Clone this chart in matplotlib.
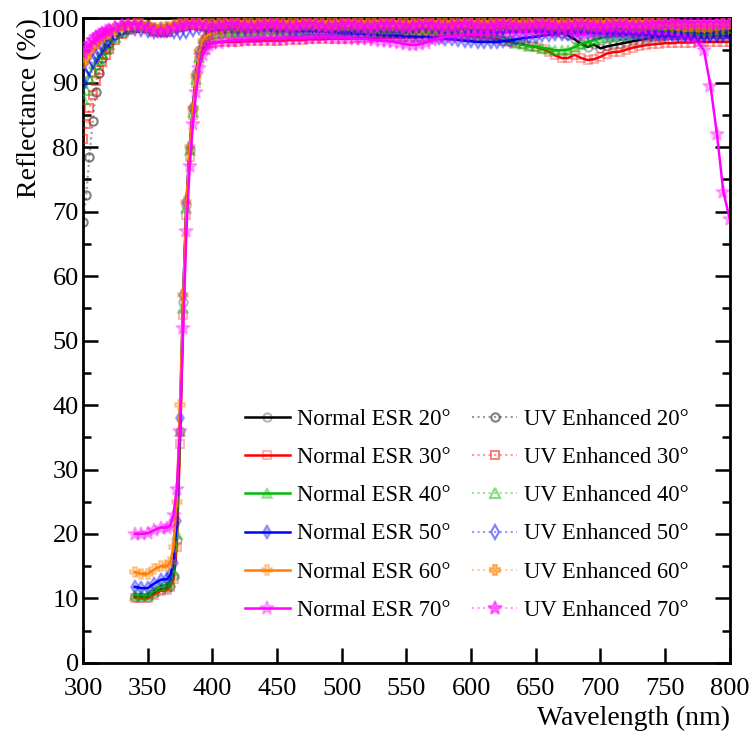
import matplotlib
matplotlib.use("Agg")
import matplotlib.pyplot as plt
from matplotlib.colors import to_rgba

plt.rcParams['font.family'] = ['Liberation Serif', 'DejaVu Serif']
plt.rcParams['mathtext.fontset'] = 'stix'

# wavelength grids (nm)
nesr_wl = [340, 345, 350, 355, 360, 365, 367.5, 370, 372.5, 375, 377.5, 380, 382.5,
           385, 387.5, 390, 392.5, 395, 397.5, 400] + list(range(405, 805, 5))
uv_wl = [300, 302.5, 305, 307.5, 310, 312.5, 315, 317.5, 320] + list(range(325, 805, 5))

# Normal ESR reflectance (%)
nesr_20 = [10.3, 10.2, 10.2, 10.8, 11.4,
           11.6, 12.0, 13.5, 19.0, 36.0, 56.0, 71.0, 79.5, 86.0, 91.5, 95.0, 96.4, 97.0, 97.8, 98.3,
           98.5, 98.6, 98.7, 98.8, 98.8, 98.9, 98.9, 99.0, 99.0, 99.0,
           99.1, 99.1, 99.1, 99.1, 99.1, 99.2, 99.2, 99.2, 99.2, 99.2,
           99.2, 99.2, 99.2, 99.2, 99.2, 99.2, 99.2, 99.2, 99.2, 99.2,
           99.2, 99.2, 99.2, 99.2, 99.2, 99.2, 99.1, 99.1, 99.1, 99.0,
           99.0, 99.0, 98.9, 98.9, 98.8, 98.8, 98.7, 98.6, 98.5, 98.4,
           98.3, 98.1, 97.9, 97.7, 97.3, 96.7, 96.0, 95.5, 95.9, 95.3,
           95.6, 95.8, 96.0, 96.2, 96.4, 96.6, 96.8, 97.0, 97.1, 97.2,
           97.3, 97.3, 97.4, 97.4, 97.5, 97.5, 97.5, 97.6, 97.6, 97.6]
nesr_30 = [10.1, 10.0, 10.0, 10.6, 11.2,
           11.3, 11.8, 13.0, 18.0, 34.0, 54.0, 69.5, 78.5, 85.0, 90.0, 93.3, 95.0, 95.8, 96.1, 96.2,
           96.3, 96.3, 96.3, 96.3, 96.4, 96.4, 96.4, 96.5, 96.5, 96.5,
           96.5, 96.6, 96.6, 96.6, 96.7, 96.7, 96.7, 96.8, 96.8, 96.8,
           96.8, 96.9, 96.9, 96.9, 96.9, 97.0, 97.0, 97.0, 97.0, 97.0,
           97.0, 97.0, 97.1, 97.1, 97.2, 97.2, 97.3, 97.3, 97.3, 97.2,
           97.1, 97.0, 96.9, 96.7, 96.5, 96.3, 96.1, 95.9, 95.7, 95.5,
           95.2, 94.8, 94.2, 93.8, 93.8, 94.3, 93.8, 93.5, 93.6, 94.0,
           94.5, 94.7, 94.8, 95.1, 95.4, 95.6, 95.8, 95.9, 96.0, 96.1,
           96.1, 96.2, 96.2, 96.2, 96.3, 96.3, 96.3, 96.3, 96.3, 96.3]
nesr_40 = [10.6, 10.5, 10.5, 11.2, 11.9,
           12.1, 12.6, 14.0, 20.0, 36.0, 55.0, 70.5, 79.5, 85.5, 90.5, 94.0, 95.8, 96.7, 97.2, 97.5,
           97.7, 97.8, 97.9, 97.9, 98.0, 98.0, 98.0, 98.1, 98.1, 98.1,
           98.0, 98.0, 98.0, 98.0, 98.1, 98.1, 98.1, 98.0, 98.0, 98.0,
           98.0, 98.0, 98.0, 97.9, 97.9, 97.9, 97.9, 97.8, 97.8, 97.8,
           97.8, 97.8, 97.8, 97.7, 97.7, 97.7, 97.7, 97.6, 97.6, 97.5,
           97.5, 97.4, 97.3, 97.2, 97.0, 96.6, 96.1, 95.9, 95.6, 95.6,
           95.4, 95.2, 95.0, 95.0, 95.1, 95.5, 96.0, 96.3, 96.6, 96.9,
           97.1, 97.2, 97.3, 97.4, 97.5, 97.5, 97.6, 97.6, 97.7, 97.7,
           97.7, 97.7, 97.8, 97.8, 97.8, 97.8, 97.8, 97.8, 97.8, 97.8]
nesr_50 = [11.8, 11.6, 11.6, 12.3, 12.9,
           13.0, 13.6, 15.5, 22.0, 38.0, 57.0, 71.5, 80.0, 86.0, 91.0, 94.5, 96.2, 97.0, 97.5, 97.8,
           98.0, 98.1, 98.2, 98.2, 98.2, 98.2, 98.2, 98.2, 98.1, 98.1,
           98.1, 98.1, 98.0, 98.0, 98.0, 97.9, 97.9, 97.8, 97.8, 97.7,
           97.7, 97.6, 97.6, 97.5, 97.5, 97.4, 97.4, 97.3, 97.3, 97.2,
           97.2, 97.1, 97.1, 97.0, 96.9, 96.8, 96.7, 96.6, 96.5, 96.4,
           96.3, 96.3, 96.3, 96.3, 96.4, 96.5, 96.7, 96.9, 97.0, 97.1,
           97.3, 97.4, 97.5, 97.6, 97.6, 97.7, 97.7, 97.7, 97.7, 97.7,
           97.6, 97.6, 97.6, 97.5, 97.5, 97.5, 97.4, 97.4, 97.4, 97.4,
           97.3, 97.3, 97.3, 97.3, 97.2, 97.2, 97.2, 97.2, 97.2, 97.2]
nesr_60 = [14.1, 13.8, 13.8, 14.5, 15.0,
           15.0, 15.6, 18.0, 25.0, 40.0, 57.0, 71.5, 80.0, 86.0, 91.0, 94.8, 96.5, 97.1, 97.5, 97.7,
           97.9, 98.0, 98.1, 98.1, 98.2, 98.2, 98.2, 98.3, 98.3, 98.3,
           98.3, 98.3, 98.4, 98.4, 98.4, 98.4, 98.4, 98.4, 98.4, 98.4,
           98.4, 98.4, 98.4, 98.3, 98.3, 98.3, 98.3, 98.3, 98.3, 98.2,
           98.2, 98.2, 98.2, 98.2, 98.2, 98.2, 98.3, 98.3, 98.3, 98.3,
           98.3, 98.3, 98.4, 98.4, 98.4, 98.4, 98.4, 98.4, 98.3, 98.3,
           98.3, 98.3, 98.3, 98.3, 98.3, 98.3, 98.3, 98.3, 98.3, 98.3,
           98.3, 98.3, 98.2, 98.2, 98.2, 98.2, 98.2, 98.1, 98.1, 98.1,
           98.1, 98.0, 98.0, 98.0, 97.9, 97.9, 97.9, 97.8, 97.8, 97.8]
nesr_70 = [20.0, 20.0, 20.1, 20.6, 21.0,
           21.0, 21.3, 23.0, 27.0, 36.0, 52.0, 67.0, 77.0, 83.5, 88.5, 92.3, 94.2, 95.2, 95.8, 96.1,
           96.2, 96.4, 96.5, 96.6, 96.6, 96.7, 96.7, 96.8, 96.8, 96.8,
           96.8, 96.9, 96.9, 96.9, 96.9, 97.0, 97.0, 97.0, 96.9, 96.9,
           96.9, 96.8, 96.8, 96.7, 96.6, 96.5, 96.4, 96.3, 96.1, 95.9,
           95.8, 95.9, 96.2, 96.6, 96.9, 97.1, 97.2, 97.3, 97.4, 97.5,
           97.5, 97.6, 97.6, 97.7, 97.7, 97.8, 97.8, 97.8, 97.9, 97.9,
           97.9, 97.9, 98.0, 98.0, 98.0, 97.7, 97.4, 97.7, 97.9, 97.9,
           97.9, 97.9, 97.8, 97.8, 97.8, 97.7, 97.7, 97.7, 97.6, 97.6,
           97.5, 97.4, 97.2, 96.9, 96.3, 95.0, 89.5, 82.0, 73.0, 68.8]

# UV Enhanced ESR reflectance (%)
uv_20 = [68.4, 72.5, 78.5, 84.0, 88.6, 91.5, 93.8, 95.2, 96.2,
         97.3, 98.1, 98.6, 98.8, 98.9, 98.8, 98.5, 98.3, 98.4, 98.7,
         99.0, 99.2, 99.2, 99.1, 99.0, 99.1, 99.2, 99.3, 99.3, 99.2,
         99.1, 99.1, 99.2, 99.3, 99.3, 99.2, 99.1, 99.1, 99.2, 99.3,
         99.3, 99.2, 99.1, 99.1, 99.2, 99.3, 99.3, 99.2, 99.1, 99.1,
         99.2, 99.3, 99.3, 99.2, 99.1, 99.1, 99.2, 99.3, 99.3, 99.2,
         99.1, 99.1, 99.2, 99.3, 99.3, 99.2, 99.1, 99.1, 99.2, 99.3,
         99.3, 99.2, 99.1, 99.1, 99.2, 99.3, 99.3, 99.2, 99.1, 99.1,
         99.2, 99.3, 99.3, 99.2, 99.1, 99.1, 99.2, 99.3, 99.3, 99.2,
         99.1, 99.1, 99.2, 99.3, 99.3, 99.2, 99.1, 99.0, 98.9, 98.8,
         98.7, 98.7, 98.8, 98.9, 99.0, 99.0]
uv_30 = [81.2, 83.5, 86.0, 88.0, 90.2, 92.0, 93.2, 94.3, 95.2,
         96.6, 97.5, 98.1, 98.4, 98.5, 98.4, 98.0, 97.8, 97.9, 98.3,
         98.6, 98.8, 98.9, 98.8, 98.7, 98.7, 98.8, 98.9, 99.0, 98.9,
         98.8, 98.7, 98.8, 98.9, 99.0, 98.9, 98.8, 98.7, 98.8, 98.9,
         99.0, 98.9, 98.8, 98.7, 98.8, 98.9, 99.0, 98.9, 98.8, 98.7,
         98.8, 98.9, 99.0, 98.9, 98.8, 98.7, 98.8, 98.9, 99.0, 98.9,
         98.8, 98.7, 98.8, 98.9, 99.0, 98.9, 98.8, 98.7, 98.8, 98.9,
         99.0, 98.9, 98.8, 98.7, 98.8, 98.9, 99.0, 98.9, 98.8, 98.7,
         98.8, 98.9, 99.0, 98.9, 98.8, 98.7, 98.8, 98.9, 99.0, 98.9,
         98.8, 98.7, 98.8, 98.9, 98.9, 98.8, 98.7, 98.6, 98.5, 98.4,
         98.3, 98.2, 98.3, 98.4, 98.5, 98.5]
uv_40 = [87.4, 88.8, 90.7, 91.8, 92.8, 93.6, 94.4, 95.2, 95.9,
         97.1, 97.9, 98.4, 98.7, 98.8, 98.6, 98.2, 98.0, 98.2, 98.6,
         98.9, 99.1, 99.1, 99.0, 98.9, 98.9, 99.0, 99.1, 99.1, 99.0,
         98.9, 98.9, 99.0, 99.1, 99.1, 99.0, 98.9, 98.9, 99.0, 99.1,
         99.1, 99.0, 98.9, 98.9, 99.0, 99.1, 99.1, 99.0, 98.9, 98.9,
         99.0, 99.1, 99.1, 99.0, 98.9, 98.9, 99.0, 99.1, 99.1, 99.0,
         98.9, 98.9, 99.0, 99.1, 99.1, 99.0, 98.9, 98.9, 99.0, 99.1,
         99.1, 99.0, 98.9, 98.9, 99.0, 99.1, 99.1, 99.0, 98.9, 98.9,
         99.0, 99.1, 99.1, 99.0, 98.9, 98.9, 99.0, 99.1, 99.1, 99.0,
         98.9, 98.9, 99.0, 99.0, 98.9, 98.8, 98.7, 98.6, 98.5, 98.4,
         98.3, 98.2, 98.2, 98.3, 98.4, 98.4]
uv_50 = [89.8, 91.0, 92.3, 93.3, 94.1, 94.9, 95.6, 96.2, 96.7,
         97.6, 98.2, 98.5, 98.5, 98.3, 98.1, 98.0, 98.1, 98.1, 98.0,
         97.9, 98.0, 98.3, 98.6, 98.8, 98.9, 98.9, 98.8, 98.7, 98.6,
         98.6, 98.7, 98.8, 98.9, 98.9, 98.8, 98.7, 98.6, 98.6, 98.7,
         98.8, 98.9, 98.9, 98.8, 98.7, 98.6, 98.6, 98.7, 98.8, 98.9,
         98.9, 98.8, 98.7, 98.6, 98.6, 98.7, 98.8, 98.9, 98.9, 98.8,
         98.7, 98.6, 98.6, 98.7, 98.8, 98.9, 98.9, 98.8, 98.7, 98.6,
         98.6, 98.7, 98.8, 98.9, 98.9, 98.8, 98.7, 98.6, 98.6, 98.7,
         98.8, 98.8, 98.7, 98.6, 98.5, 98.5, 98.4, 98.4, 98.3, 98.3,
         98.2, 98.2, 98.1, 98.0, 97.9, 97.8, 97.8, 97.7, 97.7, 97.7,
         97.6, 97.6, 97.6, 97.6, 97.7, 97.7]
uv_60 = [93.0, 94.0, 94.9, 95.6, 96.2, 96.7, 97.1, 97.5, 97.8,
         98.3, 98.7, 98.9, 99.0, 99.0, 98.8, 98.5, 98.4, 98.6, 98.9,
         99.1, 99.3, 99.3, 99.2, 99.1, 99.1, 99.2, 99.3, 99.4, 99.3,
         99.2, 99.2, 99.3, 99.4, 99.4, 99.3, 99.2, 99.2, 99.3, 99.4,
         99.4, 99.3, 99.2, 99.2, 99.3, 99.4, 99.4, 99.3, 99.2, 99.2,
         99.3, 99.4, 99.4, 99.3, 99.2, 99.2, 99.3, 99.4, 99.4, 99.3,
         99.2, 99.2, 99.3, 99.4, 99.4, 99.3, 99.2, 99.2, 99.3, 99.4,
         99.4, 99.3, 99.2, 99.2, 99.3, 99.4, 99.4, 99.3, 99.2, 99.2,
         99.3, 99.4, 99.4, 99.3, 99.2, 99.2, 99.3, 99.4, 99.4, 99.3,
         99.2, 99.2, 99.3, 99.3, 99.2, 99.1, 99.0, 98.9, 98.8, 98.8,
         98.7, 98.7, 98.8, 98.9, 99.0, 99.0]
uv_70 = [94.6, 95.4, 96.0, 96.6, 97.0, 97.4, 97.7, 98.0, 98.2,
         98.6, 98.9, 99.0, 98.9, 98.7, 98.4, 98.0, 97.8, 98.0, 98.4,
         98.7, 98.9, 99.0, 98.9, 98.7, 98.6, 98.7, 98.9, 99.0, 98.9,
         98.7, 98.6, 98.7, 98.9, 99.0, 98.9, 98.7, 98.6, 98.7, 98.9,
         99.0, 98.9, 98.7, 98.6, 98.7, 98.9, 99.0, 98.9, 98.7, 98.6,
         98.7, 98.9, 99.0, 98.9, 98.7, 98.6, 98.7, 98.9, 99.0, 98.9,
         98.7, 98.6, 98.7, 98.9, 99.0, 98.9, 98.7, 98.6, 98.7, 98.9,
         99.0, 98.9, 98.7, 98.6, 98.7, 98.9, 99.0, 98.9, 98.7, 98.6,
         98.7, 98.9, 99.0, 98.9, 98.7, 98.6, 98.7, 98.9, 99.0, 98.9,
         98.8, 98.8, 98.9, 99.0, 99.1, 99.1, 99.2, 99.2, 99.3, 99.3,
         99.3, 99.3, 99.3, 99.3, 99.3, 99.3]

angles = [20, 30, 40, 50, 60, 70]
colors = ['#000000', '#ff0000', '#00bb00', '#0000ff', '#ff7f00', '#ff00ff']
nesr_markers = ['o', 's', '^', 'd', 'P', '*']
nesr_filled = [False, False, True, True, True, True]
uv_markers = ['o', 's', '^', 'd', 'P', '*']
uv_filled = [False, False, False, False, True, True]
marker_sizes = [6, 6, 7, 7, 7, 10]
nesr_series = [nesr_20, nesr_30, nesr_40, nesr_50, nesr_60, nesr_70]
uv_series = [uv_20, uv_30, uv_40, uv_50, uv_60, uv_70]

fig = plt.figure(figsize=(7.54, 7.36), dpi=100)
ax = fig.add_axes([0.110, 0.0992, 0.858, 0.8763])

handles = []
for ang, c, m, f, ms, ys in zip(angles, colors, nesr_markers, nesr_filled, marker_sizes, nesr_series):
    mc = to_rgba(c, 0.3)
    h, = ax.plot(nesr_wl, ys, '-', color=c, lw=1.8, marker=m, ms=ms,
                 mfc=mc if f else 'none', mec=mc, mew=1.4,
                 label='Normal ESR %d°' % ang, zorder=2)
    handles.append(h)
for ang, c, m, f, ms, ys in zip(angles, colors, uv_markers, uv_filled, marker_sizes, uv_series):
    mc = to_rgba(c, 0.5)
    h, = ax.plot(uv_wl, ys, ':', color=to_rgba(c, 0.4), lw=1.5, marker=m, ms=ms,
                 mfc=mc if f else 'none', mec=mc, mew=1.5,
                 label='UV Enhanced %d°' % ang, zorder=3)
    handles.append(h)

ax.set_xlim(300, 800)
ax.set_ylim(0, 100)
ax.set_xticks(range(300, 801, 50))
ax.set_yticks(range(0, 101, 10))
ax.set_yticks(range(5, 100, 10), minor=True)
ax.tick_params(which='both', direction='in', top=True, right=True, width=1.8, labelsize=19)
ax.tick_params(which='major', length=11)
ax.tick_params(which='minor', length=5.5)
ax.tick_params(axis='x', pad=11)
ax.tick_params(axis='y', pad=3)
for s in ax.spines.values():
    s.set_linewidth(2)

ax.set_xlabel('Wavelength (nm)', fontsize=20, loc='right', labelpad=4)
ax.set_ylabel('Reflectance (%)', fontsize=20, loc='top', labelpad=-2)

ax.legend(handles=handles, ncol=2, loc='upper left', bbox_to_anchor=(0.25, 0.394),
          frameon=False, fontsize=16.3, borderaxespad=0, borderpad=0,
          handlelength=2.0, handletextpad=0.3, columnspacing=0.96, labelspacing=0.76)

fig.savefig('out.png', dpi=100)
